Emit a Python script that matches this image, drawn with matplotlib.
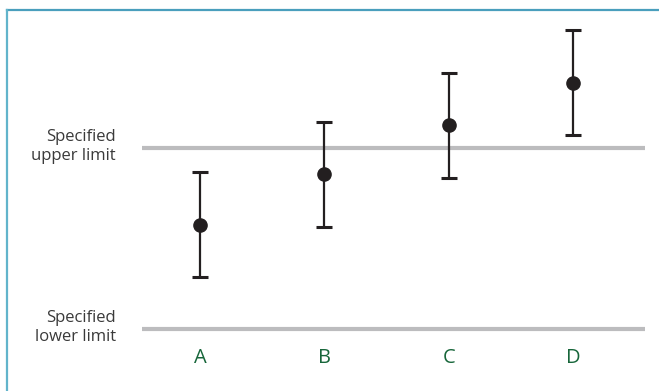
import matplotlib
matplotlib.use("Agg")
import matplotlib.pyplot as plt
from matplotlib.lines import Line2D
from matplotlib.transforms import blended_transform_factory

categories = ["A", "B", "C", "D"]
values = [57.5, 85.5, 112.5, 136.0]
errors = [29.0, 29.0, 29.0, 29.0]
upper_limit = 100.0
lower_limit = 0.0
limit_labels = ["Specified\nupper limit", "Specified\nlower limit"]

plt.rcParams['font.family'] = ['Open Sans', 'DejaVu Sans']

W, H = 659, 391
fig = plt.figure(figsize=(W / 100, H / 100), dpi=100)

# axes pixel geometry
px_left, px_right = 142, 645
px_top, px_bottom = 20, 343
ax = fig.add_axes([px_left / W, (H - px_bottom) / H,
                   (px_right - px_left) / W, (px_bottom - px_top) / H])

ppu = 1.81  # pixels per data unit
y_base = 329
ax.set_ylim((y_base - px_bottom) / ppu, (y_base - px_top) / ppu)
spacing = 124.5
ax.set_xlim(-(200 - px_left) / spacing, 3 + (px_right - 573) / spacing)

xs = list(range(len(categories)))
ax.axhline(upper_limit, color="#bcbcbe", lw=3, zorder=1)
ax.axhline(lower_limit, color="#bcbcbe", lw=3, zorder=1)

ax.errorbar(xs, values, yerr=errors, fmt="o", color="#231f20",
            ecolor="#231f20", elinewidth=1.6, capsize=5.5, capthick=2.2,
            markersize=9.5, zorder=3)

ax.set_xticks(xs)
ax.set_xticklabels(categories, color="#17663a", fontsize=14.5,
                   fontweight="medium")
ax.tick_params(axis="x", length=0, pad=3.5)
ax.set_yticks([])
for s in ax.spines.values():
    s.set_visible(False)

tr = blended_transform_factory(fig.transFigure, ax.transData)
for yv, lab in zip([upper_limit, lower_limit], limit_labels):
    ax.text(116 / W, yv + 0.8, lab, transform=tr, ha="right", va="center",
            fontsize=12, color="#3a3a3a", linespacing=1.3)

# frame lines (top and left)
fig.add_artist(Line2D([7 / W, 1], [1 - 9.5 / H, 1 - 9.5 / H],
                      transform=fig.transFigure, color="#4a9fbd", lw=1.6))
fig.add_artist(Line2D([7 / W, 7 / W], [0, 1 - 9.5 / H],
                      transform=fig.transFigure, color="#62b4cb", lw=1.6))

fig.savefig("out.png", dpi=100)
